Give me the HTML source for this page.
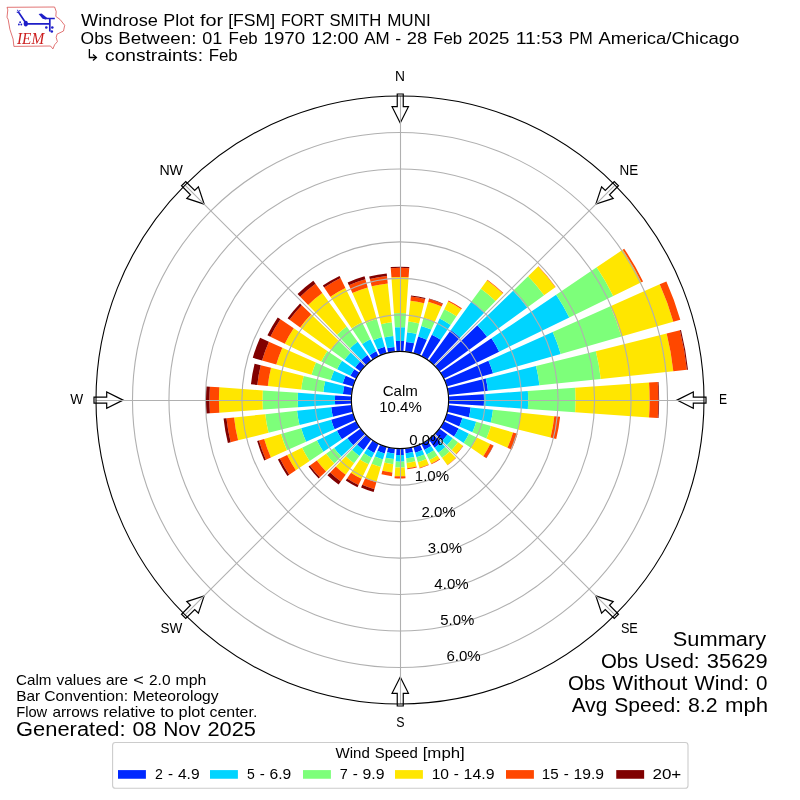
<!DOCTYPE html><html><head><meta charset="utf-8"><title>Windrose Plot FSM</title><style>html,body{margin:0;padding:0;background:#fff;font-family:"Liberation Sans",sans-serif;}svg{display:block;will-change:transform;}</style></head><body><svg width="800" height="800" viewBox="0 0 800 800"><rect width="800" height="800" fill="#fff"/><path fill="#0028ff" d="M396.61,351.48L395.88,341.07A59.07,59.07 0 0 1 404.12,341.07L403.39,351.48A48.64,48.64 0 0 0 396.61,351.48ZM405.08,351.63L406.10,341.94A58.38,58.38 0 0 1 414.12,343.35L411.77,352.80A48.64,48.64 0 0 0 405.08,351.63ZM413.41,353.24L418.18,336.59A65.97,65.97 0 0 1 426.83,339.74L419.78,355.57A48.64,48.64 0 0 0 413.41,353.24ZM421.32,356.28L431.88,334.64A72.72,72.72 0 0 1 440.66,339.72L427.20,359.68A48.64,48.64 0 0 0 421.32,356.28ZM428.59,360.65L450.89,329.96A86.58,86.58 0 0 1 460.14,337.72L433.79,365.01A48.64,48.64 0 0 0 428.59,360.65ZM434.99,366.21L477.37,325.29A107.56,107.56 0 0 1 487.01,336.78L439.35,371.41A48.64,48.64 0 0 0 434.99,366.21ZM440.32,372.80L491.44,338.33A110.29,110.29 0 0 1 499.13,351.65L443.72,378.68A48.64,48.64 0 0 0 440.32,372.80ZM444.43,380.22L488.43,360.63A96.79,96.79 0 0 1 493.04,373.32L446.76,386.59A48.64,48.64 0 0 0 444.43,380.22ZM447.20,388.23L485.78,378.61A88.40,88.40 0 0 1 487.92,390.76L448.37,394.92A48.64,48.64 0 0 0 447.20,388.23ZM448.52,396.61L483.82,394.14A84.03,84.03 0 0 1 483.82,405.86L448.52,403.39A48.64,48.64 0 0 0 448.52,396.61ZM448.37,405.08L470.69,407.43A71.08,71.08 0 0 1 468.96,417.19L447.20,411.77A48.64,48.64 0 0 0 448.37,405.08ZM446.76,413.41L462.40,417.89A64.91,64.91 0 0 1 459.30,426.40L444.43,419.78A48.64,48.64 0 0 0 446.76,413.41ZM443.72,421.32L458.64,428.60A65.24,65.24 0 0 1 454.09,436.48L440.32,427.20A48.64,48.64 0 0 0 443.72,421.32ZM439.35,428.59L447.47,434.49A58.67,58.67 0 0 1 442.21,440.76L434.99,433.79A48.64,48.64 0 0 0 439.35,428.59ZM433.79,434.99L440.96,442.42A58.96,58.96 0 0 1 434.66,447.70L428.59,439.35A48.64,48.64 0 0 0 433.79,434.99ZM427.20,440.32L431.08,446.07A55.57,55.57 0 0 1 424.36,449.95L421.32,443.72A48.64,48.64 0 0 0 427.20,440.32ZM419.78,444.43L422.31,450.10A54.84,54.84 0 0 1 415.12,452.72L413.41,446.76A48.64,48.64 0 0 0 419.78,444.43ZM411.77,447.20L412.96,451.97A53.56,53.56 0 0 1 405.60,453.27L405.08,448.37A48.64,48.64 0 0 0 411.77,447.20ZM403.39,448.52L403.84,454.89A55.02,55.02 0 0 1 396.16,454.89L396.61,448.52A48.64,48.64 0 0 0 403.39,448.52ZM394.92,448.37L394.37,453.53A53.82,53.82 0 0 1 386.98,452.22L388.23,447.20A48.64,48.64 0 0 0 394.92,448.37ZM386.59,446.76L384.68,453.42A55.57,55.57 0 0 1 377.40,450.77L380.22,444.43A48.64,48.64 0 0 0 386.59,446.76ZM378.68,443.72L374.20,452.90A58.85,58.85 0 0 1 367.09,448.79L372.80,440.32A48.64,48.64 0 0 0 378.68,443.72ZM371.41,439.35L363.69,449.98A61.77,61.77 0 0 1 357.09,444.44L366.21,434.99A48.64,48.64 0 0 0 371.41,439.35ZM365.01,433.79L353.20,445.19A65.06,65.06 0 0 1 347.37,438.24L360.65,428.59A48.64,48.64 0 0 0 365.01,433.79ZM359.68,427.20L341.83,439.23A70.16,70.16 0 0 1 336.94,430.76L356.28,421.32A48.64,48.64 0 0 0 359.68,427.20ZM355.57,419.78L334.57,429.13A71.62,71.62 0 0 1 331.15,419.74L353.24,413.41A48.64,48.64 0 0 0 355.57,419.78ZM352.80,411.77L332.88,416.74A69.18,69.18 0 0 1 331.20,407.23L351.63,405.08A48.64,48.64 0 0 0 352.80,411.77ZM351.48,403.39L335.10,404.54A65.06,65.06 0 0 1 335.10,395.46L351.48,396.61A48.64,48.64 0 0 0 351.48,403.39ZM351.63,394.92L342.92,394.00A57.40,57.40 0 0 1 344.31,386.11L352.80,388.23A48.64,48.64 0 0 0 351.63,394.92ZM353.24,386.59L342.72,383.58A59.58,59.58 0 0 1 345.57,375.77L355.57,380.22A48.64,48.64 0 0 0 353.24,386.59ZM356.28,378.68L350.38,375.80A55.21,55.21 0 0 1 354.23,369.13L359.68,372.80A48.64,48.64 0 0 0 356.28,378.68ZM360.65,371.41L355.19,367.44A55.39,55.39 0 0 1 360.16,361.52L365.01,366.21A48.64,48.64 0 0 0 360.65,371.41ZM366.21,365.01L361.40,360.03A55.57,55.57 0 0 1 367.34,355.04L371.41,360.65A48.64,48.64 0 0 0 366.21,365.01ZM372.80,359.68L369.74,355.14A54.11,54.11 0 0 1 376.28,351.36L378.68,356.28A48.64,48.64 0 0 0 372.80,359.68ZM380.22,355.57L377.44,349.33A55.46,55.46 0 0 1 384.71,346.69L386.59,353.24A48.64,48.64 0 0 0 380.22,355.57ZM388.23,352.80L387.10,348.27A53.31,53.31 0 0 1 394.43,346.98L394.92,351.63A48.64,48.64 0 0 0 388.23,352.80Z"/>
<path fill="#00d4ff" d="M395.88,341.07L394.92,327.35A72.83,72.83 0 0 1 405.08,327.35L404.12,341.07A59.07,59.07 0 0 0 395.88,341.07ZM406.10,341.94L407.13,332.14A68.23,68.23 0 0 1 416.51,333.80L414.12,343.35A58.38,58.38 0 0 0 406.10,341.94ZM418.18,336.59L421.25,325.89A77.09,77.09 0 0 1 431.36,329.57L426.83,339.74A65.97,65.97 0 0 0 418.18,336.59ZM431.88,334.64L439.71,318.58A90.59,90.59 0 0 1 450.66,324.90L440.66,339.72A72.72,72.72 0 0 0 431.88,334.64ZM450.89,329.96L471.47,301.62A121.60,121.60 0 0 1 484.47,312.53L460.14,337.72A86.58,86.58 0 0 0 450.89,329.96ZM477.37,325.29L513.19,290.70A157.35,157.35 0 0 1 527.30,307.51L487.01,336.78A107.56,107.56 0 0 0 477.37,325.29ZM491.44,338.33L556.16,294.67A188.36,188.36 0 0 1 569.30,317.43L499.13,351.65A110.29,110.29 0 0 0 491.44,338.33ZM488.43,360.63L552.74,331.99A167.20,167.20 0 0 1 560.72,353.91L493.04,373.32A96.79,96.79 0 0 0 488.43,360.63ZM485.78,378.61L536.04,366.08A140.20,140.20 0 0 1 539.44,385.34L487.92,390.76A88.40,88.40 0 0 0 485.78,378.61ZM483.82,394.14L527.85,391.06A128.17,128.17 0 0 1 527.85,408.94L483.82,405.86A84.03,84.03 0 0 0 483.82,394.14ZM470.69,407.43L493.00,409.77A93.51,93.51 0 0 1 490.73,422.62L468.96,417.19A71.08,71.08 0 0 0 470.69,407.43ZM462.40,417.89L476.21,421.85A79.28,79.28 0 0 1 472.43,432.25L459.30,426.40A64.91,64.91 0 0 0 462.40,417.89ZM458.64,428.60L468.96,433.64A76.73,76.73 0 0 1 463.61,442.91L454.09,436.48A65.24,65.24 0 0 0 458.64,428.60ZM447.47,434.49L452.81,438.37A65.27,65.27 0 0 1 446.95,445.34L442.21,440.76A58.67,58.67 0 0 0 447.47,434.49ZM440.96,442.42L445.32,446.93A65.24,65.24 0 0 1 438.35,452.78L434.66,447.70A58.96,58.96 0 0 0 440.96,442.42ZM431.08,446.07L433.93,450.30A60.68,60.68 0 0 1 426.60,454.54L424.36,449.95A55.57,55.57 0 0 0 431.08,446.07ZM422.31,450.10L424.23,454.43A59.58,59.58 0 0 1 416.42,457.28L415.12,452.72A54.84,54.84 0 0 0 422.31,450.10ZM412.96,451.97L414.19,456.93A58.67,58.67 0 0 1 406.13,458.35L405.60,453.27A53.56,53.56 0 0 0 412.96,451.97ZM403.84,454.89L404.31,461.62A61.77,61.77 0 0 1 395.69,461.62L396.16,454.89A55.02,55.02 0 0 0 403.84,454.89ZM394.37,453.53L393.79,459.08A59.40,59.40 0 0 1 385.63,457.64L386.98,452.22A53.82,53.82 0 0 0 394.37,453.53ZM384.68,453.42L382.92,459.56A61.96,61.96 0 0 1 374.80,456.60L377.40,450.77A55.57,55.57 0 0 0 384.68,453.42ZM374.20,452.90L371.80,457.82A64.33,64.33 0 0 1 364.03,453.33L367.09,448.79A58.85,58.85 0 0 0 374.20,452.90ZM363.69,449.98L359.40,455.88A69.07,69.07 0 0 1 352.02,449.68L357.09,444.44A61.77,61.77 0 0 0 363.69,449.98ZM353.20,445.19L341.39,456.60A81.47,81.47 0 0 1 334.09,447.89L347.37,438.24A65.06,65.06 0 0 0 353.20,445.19ZM341.83,439.23L323.38,451.68A92.42,92.42 0 0 1 316.94,440.51L336.94,430.76A70.16,70.16 0 0 0 341.83,439.23ZM334.57,429.13L306.08,441.82A102.81,102.81 0 0 1 301.17,428.34L331.15,419.74A71.62,71.62 0 0 0 334.57,429.13ZM332.88,416.74L299.53,425.05A103.54,103.54 0 0 1 297.02,410.82L331.20,407.23A69.18,69.18 0 0 0 332.88,416.74ZM335.10,404.54L297.98,407.13A102.27,102.27 0 0 1 297.98,392.87L335.10,395.46A65.06,65.06 0 0 0 335.10,404.54ZM342.92,394.00L323.33,391.94A77.09,77.09 0 0 1 325.20,381.35L344.31,386.11A57.40,57.40 0 0 0 342.92,394.00ZM342.72,383.58L330.63,380.11A72.17,72.17 0 0 1 334.07,370.65L345.57,375.77A59.58,59.58 0 0 0 342.72,383.58ZM350.38,375.80L337.10,369.32A69.98,69.98 0 0 1 341.98,360.87L354.23,369.13A55.21,55.21 0 0 0 350.38,375.80ZM355.19,367.44L344.56,359.72A68.52,68.52 0 0 1 350.71,352.40L360.16,361.52A55.39,55.39 0 0 0 355.19,367.44ZM361.40,360.03L349.99,348.22A71.99,71.99 0 0 1 357.69,341.76L367.34,355.04A55.57,55.57 0 0 0 361.40,360.03ZM369.74,355.14L362.19,343.95A67.61,67.61 0 0 1 370.36,339.23L376.28,351.36A54.11,54.11 0 0 0 369.74,355.14ZM377.44,349.33L373.39,340.24A65.42,65.42 0 0 1 381.97,337.11L384.71,346.69A55.46,55.46 0 0 0 377.44,349.33ZM387.10,348.27L384.44,337.58A64.33,64.33 0 0 1 393.28,336.03L394.43,346.98A53.31,53.31 0 0 0 387.10,348.27Z"/>
<path fill="#7dff7a" d="M394.92,327.35L393.94,313.27A86.94,86.94 0 0 1 406.06,313.27L405.08,327.35A72.83,72.83 0 0 0 394.92,327.35ZM407.13,332.14L408.24,321.62A78.81,78.81 0 0 1 419.07,323.53L416.51,333.80A68.23,68.23 0 0 0 407.13,332.14ZM421.25,325.89L423.56,317.83A85.48,85.48 0 0 1 434.77,321.91L431.36,329.57A77.09,77.09 0 0 0 421.25,325.89ZM439.71,318.58L444.27,309.23A100.99,100.99 0 0 1 456.47,316.28L450.66,324.90A90.59,90.59 0 0 0 439.71,318.58ZM471.47,301.62L480.91,288.64A137.65,137.65 0 0 1 495.62,300.98L484.47,312.53A121.60,121.60 0 0 0 471.47,301.62ZM513.19,290.70L528.15,276.25A178.14,178.14 0 0 1 544.12,295.29L527.30,307.51A157.35,157.35 0 0 0 513.19,290.70ZM556.16,294.67L596.68,267.34A237.24,237.24 0 0 1 613.23,296.00L569.30,317.43A188.36,188.36 0 0 0 556.16,294.67ZM552.74,331.99L610.40,306.32A230.31,230.31 0 0 1 621.39,336.52L560.72,353.91A167.20,167.20 0 0 0 552.74,331.99ZM536.04,366.08L595.86,351.17A201.86,201.86 0 0 1 600.75,378.90L539.44,385.34A140.20,140.20 0 0 0 536.04,366.08ZM527.85,391.06L575.16,387.75A175.59,175.59 0 0 1 575.16,412.25L527.85,408.94A128.17,128.17 0 0 0 527.85,391.06ZM493.00,409.77L520.93,412.71A121.60,121.60 0 0 1 517.99,429.42L490.73,422.62A93.51,93.51 0 0 0 493.00,409.77ZM476.21,421.85L490.94,426.08A94.60,94.60 0 0 1 486.43,438.48L472.43,432.25A79.28,79.28 0 0 0 476.21,421.85ZM468.96,433.64L476.83,437.47A85.48,85.48 0 0 1 470.87,447.80L463.61,442.91A76.73,76.73 0 0 0 468.96,433.64ZM452.81,438.37L458.09,442.21A71.80,71.80 0 0 1 451.65,449.88L446.95,445.34A65.27,65.27 0 0 0 452.81,438.37ZM445.32,446.93L449.63,451.39A71.44,71.44 0 0 1 441.99,457.80L438.35,452.78A65.24,65.24 0 0 0 445.32,446.93ZM433.93,450.30L437.40,455.45A66.88,66.88 0 0 1 429.32,460.11L426.60,454.54A60.68,60.68 0 0 0 433.93,450.30ZM424.23,454.43L426.31,459.10A64.69,64.69 0 0 1 417.83,462.19L416.42,457.28A59.58,59.58 0 0 0 424.23,454.43ZM414.19,456.93L415.30,461.35A63.23,63.23 0 0 1 406.61,462.89L406.13,458.35A58.67,58.67 0 0 0 414.19,456.93ZM404.31,461.62L404.72,467.44A67.61,67.61 0 0 1 395.28,467.44L395.69,461.62A61.77,61.77 0 0 0 404.31,461.62ZM393.79,459.08L393.26,464.16A64.51,64.51 0 0 1 384.39,462.59L385.63,457.64A59.40,59.40 0 0 0 393.79,459.08ZM382.92,459.56L380.79,466.99A69.69,69.69 0 0 1 371.65,463.66L374.80,456.60A61.96,61.96 0 0 0 382.92,459.56ZM371.80,457.82L368.60,464.37A71.62,71.62 0 0 1 359.95,459.38L364.03,453.33A64.33,64.33 0 0 0 371.80,457.82ZM359.40,455.88L354.04,463.26A78.19,78.19 0 0 1 345.69,456.24L352.02,449.68A69.07,69.07 0 0 0 359.40,455.88ZM341.39,456.60L334.31,463.44A91.32,91.32 0 0 1 326.12,453.68L334.09,447.89A81.47,81.47 0 0 0 341.39,456.60ZM323.38,451.68L309.62,460.96A109.01,109.01 0 0 1 302.02,447.79L316.94,440.51A92.42,92.42 0 0 0 323.38,451.68ZM306.08,441.82L286.91,450.35A123.79,123.79 0 0 1 281.01,434.12L301.17,428.34A102.81,102.81 0 0 0 306.08,441.82ZM299.53,425.05L268.56,432.77A135.46,135.46 0 0 1 265.28,414.16L297.02,410.82A103.54,103.54 0 0 0 299.53,425.05ZM297.98,407.13L262.87,409.59A137.47,137.47 0 0 1 262.87,390.41L297.98,392.87A102.27,102.27 0 0 0 297.98,407.13ZM323.33,391.94L301.20,389.62A99.35,99.35 0 0 1 303.60,375.97L325.20,381.35A77.09,77.09 0 0 0 323.33,391.94ZM330.63,380.11L311.51,374.63A92.05,92.05 0 0 1 315.91,362.56L334.07,370.65A72.17,72.17 0 0 0 330.63,380.11ZM337.10,369.32L321.20,361.57A87.67,87.67 0 0 1 327.32,350.97L341.98,360.87A69.98,69.98 0 0 0 337.10,369.32ZM344.56,359.72L330.84,349.75A85.48,85.48 0 0 1 338.51,340.62L350.71,352.40A68.52,68.52 0 0 0 344.56,359.72ZM349.99,348.22L336.94,334.70A90.77,90.77 0 0 1 346.64,326.56L357.69,341.76A71.99,71.99 0 0 0 349.99,348.22ZM362.19,343.95L351.59,328.22A86.58,86.58 0 0 1 362.05,322.18L370.36,339.23A67.61,67.61 0 0 0 362.19,343.95ZM373.39,340.24L365.75,323.07A84.21,84.21 0 0 1 376.79,319.05L381.97,337.11A65.42,65.42 0 0 0 373.39,340.24ZM384.44,337.58L381.08,324.13A78.19,78.19 0 0 1 391.83,322.24L393.28,336.03A64.33,64.33 0 0 0 384.44,337.58Z"/>
<path fill="#ffe600" d="M393.94,313.27L391.42,277.24A123.06,123.06 0 0 1 408.58,277.24L406.06,313.27A86.94,86.94 0 0 0 393.94,313.27ZM408.24,321.62L410.42,300.83A99.71,99.71 0 0 1 424.12,303.25L419.07,323.53A78.81,78.81 0 0 0 408.24,321.62ZM423.56,317.83L428.19,301.70A102.27,102.27 0 0 1 441.60,306.58L434.77,321.91A85.48,85.48 0 0 0 423.56,317.83ZM444.27,309.23L448.03,301.53A109.56,109.56 0 0 1 461.27,309.17L456.47,316.28A100.99,100.99 0 0 0 444.27,309.23ZM480.91,288.64L487.02,280.23A148.05,148.05 0 0 1 502.84,293.50L495.62,300.98A137.65,137.65 0 0 0 480.91,288.64ZM528.15,276.25L538.12,266.62A192.01,192.01 0 0 1 555.34,287.14L544.12,295.29A178.14,178.14 0 0 0 528.15,276.25ZM596.68,267.34L622.69,249.79A268.61,268.61 0 0 1 641.43,282.25L613.23,296.00A237.24,237.24 0 0 0 596.68,267.34ZM610.40,306.32L659.72,284.36A284.30,284.30 0 0 1 673.29,321.64L621.39,336.52A230.31,230.31 0 0 0 610.40,306.32ZM595.86,351.17L666.65,333.52A274.82,274.82 0 0 1 673.31,371.27L600.75,378.90A201.86,201.86 0 0 0 595.86,351.17ZM575.16,387.75L649.04,382.59A249.64,249.64 0 0 1 649.04,417.41L575.16,412.25A175.59,175.59 0 0 0 575.16,387.75ZM520.93,412.71L554.31,416.22A155.16,155.16 0 0 1 550.55,437.54L517.99,429.42A121.60,121.60 0 0 0 520.93,412.71ZM490.94,426.08L513.03,432.41A117.59,117.59 0 0 1 507.42,447.83L486.43,438.48A94.60,94.60 0 0 0 490.94,426.08ZM476.83,437.47L490.28,444.03A100.44,100.44 0 0 1 483.27,456.17L470.87,447.80A85.48,85.48 0 0 0 476.83,437.47ZM458.09,442.21L462.96,445.74A77.82,77.82 0 0 1 455.98,454.06L451.65,449.88A71.80,71.80 0 0 0 458.09,442.21ZM449.63,451.39L455.83,457.82A80.38,80.38 0 0 1 447.24,465.03L441.99,457.80A71.44,71.44 0 0 0 449.63,451.39ZM437.40,455.45L439.64,458.77A70.89,70.89 0 0 1 431.08,463.72L429.32,460.11A66.88,66.88 0 0 0 437.40,455.45ZM426.31,459.10L428.69,464.43A70.53,70.53 0 0 1 419.44,467.80L417.83,462.19A64.69,64.69 0 0 0 426.31,459.10ZM415.30,461.35L416.58,466.49A68.52,68.52 0 0 1 407.16,468.15L406.61,462.89A63.23,63.23 0 0 0 415.30,461.35ZM404.72,467.44L405.33,476.18A76.36,76.36 0 0 1 394.67,476.18L395.28,467.44A67.61,67.61 0 0 0 404.72,467.44ZM393.26,464.16L392.37,472.57A72.97,72.97 0 0 1 382.35,470.80L384.39,462.59A64.51,64.51 0 0 0 393.26,464.16ZM380.79,466.99L376.40,482.31A85.63,85.63 0 0 1 365.17,478.23L371.65,463.66A69.69,69.69 0 0 0 380.79,466.99ZM368.60,464.37L361.57,478.80A87.67,87.67 0 0 1 350.97,472.68L359.95,459.38A71.62,71.62 0 0 0 368.60,464.37ZM354.04,463.26L345.68,474.77A92.42,92.42 0 0 1 335.80,466.48L345.69,456.24A78.19,78.19 0 0 0 354.04,463.26ZM334.31,463.44L326.04,471.42A102.81,102.81 0 0 1 316.82,460.43L326.12,453.68A91.32,91.32 0 0 0 334.31,463.44ZM309.62,460.96L295.86,470.24A125.61,125.61 0 0 1 287.10,455.07L302.02,447.79A109.01,109.01 0 0 0 309.62,460.96ZM286.91,450.35L270.92,457.47A141.30,141.30 0 0 1 264.17,438.95L281.01,434.12A123.79,123.79 0 0 0 286.91,450.35ZM268.56,432.77L238.12,440.36A166.84,166.84 0 0 1 234.08,417.44L265.28,414.16A135.46,135.46 0 0 0 268.56,432.77ZM262.87,409.59L219.38,412.63A181.06,181.06 0 0 1 219.38,387.37L262.87,390.41A137.47,137.47 0 0 0 262.87,409.59ZM301.20,389.62L267.82,386.11A132.91,132.91 0 0 1 271.04,367.85L303.60,375.97A99.35,99.35 0 0 0 301.20,389.62ZM311.51,374.63L276.24,364.51A128.75,128.75 0 0 1 282.38,347.63L315.91,362.56A92.05,92.05 0 0 0 311.51,374.63ZM321.20,361.57L284.80,343.82A128.17,128.17 0 0 1 293.75,328.33L327.32,350.97A87.67,87.67 0 0 0 321.20,361.57ZM330.84,349.75L300.15,327.45A123.42,123.42 0 0 1 311.22,314.26L338.51,340.62A85.48,85.48 0 0 0 330.84,349.75ZM336.94,334.70L308.18,304.92A132.18,132.18 0 0 1 322.31,293.06L346.64,326.56A90.77,90.77 0 0 0 336.94,334.70ZM351.59,328.22L330.37,296.77A124.52,124.52 0 0 1 345.41,288.08L362.05,322.18A86.58,86.58 0 0 0 351.59,328.22ZM365.75,323.07L352.40,293.08A117.04,117.04 0 0 1 367.74,287.49L376.79,319.05A84.21,84.21 0 0 0 365.75,323.07ZM381.08,324.13L371.66,286.33A117.15,117.15 0 0 1 387.75,283.49L391.83,322.24A78.19,78.19 0 0 0 381.08,324.13Z"/>
<path fill="#ff4700" d="M391.42,277.24L390.78,268.14A132.18,132.18 0 0 1 409.22,268.14L408.58,277.24A123.06,123.06 0 0 0 391.42,277.24ZM410.42,300.83L410.88,296.48A104.09,104.09 0 0 1 425.18,299.00L424.12,303.25A99.71,99.71 0 0 0 410.42,300.83ZM428.19,301.70L428.99,298.89A105.18,105.18 0 0 1 442.78,303.91L441.60,306.58A102.27,102.27 0 0 0 428.19,301.70ZM448.03,301.53L448.51,300.54A110.66,110.66 0 0 1 461.88,308.26L461.27,309.17A109.56,109.56 0 0 0 448.03,301.53ZM487.02,280.23L487.45,279.64A148.78,148.78 0 0 1 503.35,292.98L502.84,293.50A148.05,148.05 0 0 0 487.02,280.23ZM538.12,266.62L538.38,266.37A192.37,192.37 0 0 1 555.63,286.93L555.34,287.14A192.01,192.01 0 0 0 538.12,266.62ZM622.69,249.79L624.20,248.77A270.44,270.44 0 0 1 643.07,281.45L641.43,282.25A268.61,268.61 0 0 0 622.69,249.79ZM659.72,284.36L666.39,281.40A291.60,291.60 0 0 1 680.30,319.63L673.29,321.64A284.30,284.30 0 0 0 659.72,284.36ZM666.65,333.52L679.93,330.21A288.50,288.50 0 0 1 686.92,369.84L673.31,371.27A274.82,274.82 0 0 0 666.65,333.52ZM649.04,382.59L657.77,381.97A258.40,258.40 0 0 1 657.77,418.03L649.04,417.41A249.64,249.64 0 0 0 649.04,382.59ZM554.31,416.22L560.12,416.83A161.00,161.00 0 0 1 556.22,438.95L550.55,437.54A155.16,155.16 0 0 0 554.31,416.22ZM513.03,432.41L517.59,433.72A122.33,122.33 0 0 1 511.75,449.76L507.42,447.83A117.59,117.59 0 0 0 513.03,432.41ZM490.28,444.03L493.39,445.55A103.91,103.91 0 0 1 486.14,458.10L483.27,456.17A100.44,100.44 0 0 0 490.28,444.03ZM462.96,445.74L463.34,446.02A78.30,78.30 0 0 1 456.32,454.39L455.98,454.06A77.82,77.82 0 0 0 462.96,445.74ZM455.83,457.82L456.09,458.08A80.74,80.74 0 0 1 447.46,465.32L447.24,465.03A80.38,80.38 0 0 0 455.83,457.82ZM439.64,458.77L440.05,459.38A71.62,71.62 0 0 1 431.40,464.37L431.08,463.72A70.89,70.89 0 0 0 439.64,458.77ZM428.69,464.43L428.98,465.10A71.26,71.26 0 0 1 419.64,468.50L419.44,467.80A70.53,70.53 0 0 0 428.69,464.43ZM416.58,466.49L416.84,467.55A69.62,69.62 0 0 1 407.28,469.23L407.16,468.15A68.52,68.52 0 0 0 416.58,466.49ZM405.33,476.18L405.48,478.36A78.55,78.55 0 0 1 394.52,478.36L394.67,476.18A76.36,76.36 0 0 0 405.33,476.18ZM392.37,472.57L391.99,476.20A76.62,76.62 0 0 1 381.46,474.34L382.35,470.80A72.97,72.97 0 0 0 392.37,472.57ZM376.40,482.31L374.43,489.19A92.78,92.78 0 0 1 362.26,484.76L365.17,478.23A85.63,85.63 0 0 0 376.40,482.31ZM361.57,478.80L358.53,485.03A94.60,94.60 0 0 1 347.10,478.43L350.97,472.68A87.67,87.67 0 0 0 361.57,478.80ZM345.68,474.77L340.85,481.41A100.62,100.62 0 0 1 330.10,472.38L335.80,466.48A92.42,92.42 0 0 0 345.68,474.77ZM326.04,471.42L319.88,477.37A111.39,111.39 0 0 1 309.89,465.47L316.82,460.43A102.81,102.81 0 0 0 326.04,471.42ZM295.86,470.24L289.21,474.73A133.64,133.64 0 0 1 279.89,458.58L287.10,455.07A125.61,125.61 0 0 0 295.86,470.24ZM270.92,457.47L265.92,459.70A146.77,146.77 0 0 1 258.91,440.46L264.17,438.95A141.30,141.30 0 0 0 270.92,457.47ZM238.12,440.36L230.69,442.21A174.50,174.50 0 0 1 226.46,418.24L234.08,417.44A166.84,166.84 0 0 0 238.12,440.36ZM219.38,412.63L209.92,413.29A190.55,190.55 0 0 1 209.92,386.71L219.38,387.37A181.06,181.06 0 0 0 219.38,412.63ZM267.82,386.11L257.30,385.00A143.49,143.49 0 0 1 260.77,365.29L271.04,367.85A132.91,132.91 0 0 0 267.82,386.11ZM276.24,364.51L262.07,360.45A143.49,143.49 0 0 1 268.92,341.64L282.38,347.63A128.75,128.75 0 0 0 276.24,364.51ZM284.80,343.82L270.38,336.78A144.22,144.22 0 0 1 280.44,319.35L293.75,328.33A128.17,128.17 0 0 0 284.80,343.82ZM300.15,327.45L289.52,319.73A136.56,136.56 0 0 1 301.77,305.14L311.22,314.26A123.42,123.42 0 0 0 300.15,327.45ZM308.18,304.92L300.20,296.65A143.67,143.67 0 0 1 315.55,283.77L322.31,293.06A132.18,132.18 0 0 0 308.18,304.92ZM330.37,296.77L324.15,287.55A135.64,135.64 0 0 1 340.54,278.08L345.41,288.08A124.52,124.52 0 0 0 330.37,296.77ZM352.40,293.08L348.91,285.25A125.61,125.61 0 0 1 365.38,279.25L367.74,287.49A117.04,117.04 0 0 0 352.40,293.08ZM371.66,286.33L369.83,279.00A124.70,124.70 0 0 1 386.97,275.98L387.75,283.49A117.15,117.15 0 0 0 371.66,286.33Z"/>
<path fill="#800000" d="M390.78,268.14L390.70,267.05A133.27,133.27 0 0 1 409.30,267.05L409.22,268.14A132.18,132.18 0 0 0 390.78,268.14ZM410.88,296.48L410.99,295.39A105.18,105.18 0 0 1 425.45,297.94L425.18,299.00A104.09,104.09 0 0 0 410.88,296.48ZM428.99,298.89L429.09,298.54A105.55,105.55 0 0 1 442.93,303.58L442.78,303.91A105.18,105.18 0 0 0 428.99,298.89ZM679.93,330.21L680.99,329.94A289.59,289.59 0 0 1 688.00,369.73L686.92,369.84A288.50,288.50 0 0 0 679.93,330.21ZM657.77,381.97L658.50,381.92A259.13,259.13 0 0 1 658.50,418.08L657.77,418.03A258.40,258.40 0 0 0 657.77,381.97ZM493.39,445.55L493.56,445.63A104.09,104.09 0 0 1 486.29,458.21L486.14,458.10A103.91,103.91 0 0 0 493.39,445.55ZM374.43,489.19L373.62,491.99A95.70,95.70 0 0 1 361.08,487.43L362.26,484.76A92.78,92.78 0 0 0 374.43,489.19ZM358.53,485.03L357.49,487.16A96.98,96.98 0 0 1 345.77,480.40L347.10,478.43A94.60,94.60 0 0 0 358.53,485.03ZM340.85,481.41L338.60,484.51A104.45,104.45 0 0 1 327.44,475.14L330.10,472.38A100.62,100.62 0 0 0 340.85,481.41ZM319.88,477.37L318.70,478.52A113.03,113.03 0 0 1 308.56,466.44L309.89,465.47A111.39,111.39 0 0 0 319.88,477.37ZM289.21,474.73L287.39,475.95A135.83,135.83 0 0 1 277.92,459.54L279.89,458.58A133.64,133.64 0 0 0 289.21,474.73ZM265.92,459.70L264.25,460.44A148.60,148.60 0 0 1 257.16,440.96L258.91,440.46A146.77,146.77 0 0 0 265.92,459.70ZM230.69,442.21L227.86,442.92A177.41,177.41 0 0 1 223.56,418.54L226.46,418.24A174.50,174.50 0 0 0 230.69,442.21ZM209.92,413.29L206.28,413.55A194.20,194.20 0 0 1 206.28,386.45L209.92,386.71A190.55,190.55 0 0 0 209.92,413.29ZM257.30,385.00L250.95,384.33A149.87,149.87 0 0 1 254.58,363.74L260.77,365.29A143.49,143.49 0 0 0 257.30,385.00ZM262.07,360.45L252.78,357.78A153.16,153.16 0 0 1 260.09,337.71L268.92,341.64A143.49,143.49 0 0 0 262.07,360.45ZM270.38,336.78L267.43,335.34A147.50,147.50 0 0 1 277.72,317.52L280.44,319.35A144.22,144.22 0 0 0 270.38,336.78ZM289.52,319.73L287.60,318.34A138.93,138.93 0 0 1 300.06,303.49L301.77,305.14A136.56,136.56 0 0 0 289.52,319.73ZM300.20,296.65L297.54,293.90A147.50,147.50 0 0 1 313.30,280.67L315.55,283.77A143.67,143.67 0 0 0 300.20,296.65ZM324.15,287.55L322.82,285.58A138.02,138.02 0 0 1 339.50,275.95L340.54,278.08A135.64,135.64 0 0 0 324.15,287.55ZM348.91,285.25L347.65,282.41A128.71,128.71 0 0 1 364.52,276.27L365.38,279.25A125.61,125.61 0 0 0 348.91,285.25ZM369.83,279.00L369.21,276.53A127.25,127.25 0 0 1 386.70,273.44L386.97,275.98A124.70,124.70 0 0 0 369.83,279.00Z"/>
<g fill="#fff" stroke="#000" stroke-width="1.2" stroke-linejoin="miter"><polygon points="400.25,123.00 392.05,106.70 397.25,106.70 397.25,94.00 403.25,94.00 403.25,106.70 408.45,106.70"/><polygon points="595.87,204.13 601.60,186.81 605.27,190.48 614.25,181.50 618.50,185.75 609.52,194.73 613.19,198.40"/><polygon points="677.00,400.10 693.30,391.90 693.30,397.10 706.00,397.10 706.00,403.10 693.30,403.10 693.30,408.30"/><polygon points="595.87,595.87 613.19,601.60 609.52,605.27 618.50,614.25 614.25,618.50 605.27,609.52 601.60,613.19"/><polygon points="400.25,677.00 408.45,693.30 403.25,693.30 403.25,706.00 397.25,706.00 397.25,693.30 392.05,693.30"/><polygon points="204.13,595.87 198.40,613.19 194.73,609.52 185.75,618.50 181.50,614.25 190.48,605.27 186.81,601.60"/><polygon points="123.00,400.10 106.70,408.30 106.70,403.10 94.00,403.10 94.00,397.10 106.70,397.10 106.70,391.90"/><polygon points="204.13,204.13 186.81,198.40 190.48,194.73 181.50,185.75 185.75,181.50 194.73,190.48 198.40,186.81"/></g>
<g fill="none" stroke="#b0b0b0" stroke-width="1.1"><circle cx="400.0" cy="400.0" r="48.64"/><circle cx="400.0" cy="400.0" r="85.12"/><circle cx="400.0" cy="400.0" r="121.60"/><circle cx="400.0" cy="400.0" r="158.08"/><circle cx="400.0" cy="400.0" r="194.56"/><circle cx="400.0" cy="400.0" r="231.04"/><circle cx="400.0" cy="400.0" r="267.52"/><line x1="400.50" y1="351.36" x2="400.50" y2="96.00"/><line x1="434.39" y1="365.61" x2="614.96" y2="185.04"/><line x1="448.64" y1="400.50" x2="704.00" y2="400.50"/><line x1="434.39" y1="434.39" x2="614.96" y2="614.96"/><line x1="400.50" y1="448.64" x2="400.50" y2="704.00"/><line x1="365.61" y1="434.39" x2="185.04" y2="614.96"/><line x1="351.36" y1="400.50" x2="96.00" y2="400.50"/><line x1="365.61" y1="365.61" x2="185.04" y2="185.04"/></g>
<circle cx="400.0" cy="400.0" r="304.0" fill="none" stroke="#000" stroke-width="1.1"/>
<circle cx="400.0" cy="400.0" r="48.64" fill="#fff" stroke="#000" stroke-width="1.15"/>
<g font-family="'Liberation Sans', sans-serif"><text x="395.01" y="81.00" font-size="14.51" textLength="9.95" lengthAdjust="spacingAndGlyphs" fill="#000">N</text><text x="619.56" y="174.80" font-size="14.51" textLength="18.66" lengthAdjust="spacingAndGlyphs" fill="#000">NE</text><text x="719.12" y="403.80" font-size="14.51" textLength="8.07" lengthAdjust="spacingAndGlyphs" fill="#000">E</text><text x="620.88" y="632.70" font-size="14.51" textLength="16.93" lengthAdjust="spacingAndGlyphs" fill="#000">SE</text><text x="396.17" y="726.50" font-size="14.51" textLength="8.28" lengthAdjust="spacingAndGlyphs" fill="#000">S</text><text x="160.54" y="632.70" font-size="14.51" textLength="21.86" lengthAdjust="spacingAndGlyphs" fill="#000">SW</text><text x="70.23" y="403.90" font-size="14.51" textLength="12.93" lengthAdjust="spacingAndGlyphs" fill="#000">W</text><text x="159.40" y="174.90" font-size="14.51" textLength="23.58" lengthAdjust="spacingAndGlyphs" fill="#000">NW</text><text x="409.18" y="444.60" font-size="14.51" textLength="34.23" lengthAdjust="spacingAndGlyphs" fill="#000">0.0%</text><text x="414.84" y="480.63" font-size="14.51" textLength="34.21" lengthAdjust="spacingAndGlyphs" fill="#000">1.0%</text><text x="421.48" y="516.66" font-size="14.51" textLength="34.29" lengthAdjust="spacingAndGlyphs" fill="#000">2.0%</text><text x="427.87" y="552.69" font-size="14.51" textLength="34.08" lengthAdjust="spacingAndGlyphs" fill="#000">3.0%</text><text x="434.36" y="588.72" font-size="14.51" textLength="34.22" lengthAdjust="spacingAndGlyphs" fill="#000">4.0%</text><text x="440.28" y="624.75" font-size="14.51" textLength="34.13" lengthAdjust="spacingAndGlyphs" fill="#000">5.0%</text><text x="446.40" y="660.78" font-size="14.51" textLength="34.34" lengthAdjust="spacingAndGlyphs" fill="#000">6.0%</text><text x="382.67" y="395.60" font-size="14.51" textLength="35.20" lengthAdjust="spacingAndGlyphs" fill="#000">Calm</text><text x="379.18" y="411.90" font-size="14.51" textLength="42.62" lengthAdjust="spacingAndGlyphs" fill="#000">10.4%</text><text x="81.00" y="25.80" font-size="17.42" textLength="76.88" lengthAdjust="spacingAndGlyphs" fill="#000">Windrose</text><text x="163.37" y="25.80" font-size="17.42" textLength="30.98" lengthAdjust="spacingAndGlyphs" fill="#000">Plot</text><text x="199.96" y="25.80" font-size="17.42" textLength="23.19" lengthAdjust="spacingAndGlyphs" fill="#000">for</text><text x="228.22" y="25.80" font-size="17.42" textLength="46.93" lengthAdjust="spacingAndGlyphs" fill="#000">[FSM]</text><text x="280.89" y="25.80" font-size="17.42" textLength="43.35" lengthAdjust="spacingAndGlyphs" fill="#000">FORT</text><text x="329.42" y="25.80" font-size="17.42" textLength="51.94" lengthAdjust="spacingAndGlyphs" fill="#000">SMITH</text><text x="387.14" y="25.80" font-size="17.42" textLength="43.60" lengthAdjust="spacingAndGlyphs" fill="#000">MUNI</text><text x="80.60" y="43.60" font-size="17.42" textLength="32.02" lengthAdjust="spacingAndGlyphs" fill="#000">Obs</text><text x="118.23" y="43.60" font-size="17.42" textLength="78.18" lengthAdjust="spacingAndGlyphs" fill="#000">Between:</text><text x="202.32" y="43.60" font-size="17.42" textLength="20.06" lengthAdjust="spacingAndGlyphs" fill="#000">01</text><text x="228.62" y="43.60" font-size="17.42" textLength="29.01" lengthAdjust="spacingAndGlyphs" fill="#000">Feb</text><text x="263.55" y="43.60" font-size="17.42" textLength="41.61" lengthAdjust="spacingAndGlyphs" fill="#000">1970</text><text x="311.20" y="43.60" font-size="17.42" textLength="47.26" lengthAdjust="spacingAndGlyphs" fill="#000">12:00</text><text x="364.18" y="43.60" font-size="17.42" textLength="25.41" lengthAdjust="spacingAndGlyphs" fill="#000">AM</text><text x="395.16" y="43.60" font-size="17.42" textLength="5.93" lengthAdjust="spacingAndGlyphs" fill="#000">-</text><text x="406.73" y="43.60" font-size="17.42" textLength="20.50" lengthAdjust="spacingAndGlyphs" fill="#000">28</text><text x="433.15" y="43.60" font-size="17.42" textLength="29.01" lengthAdjust="spacingAndGlyphs" fill="#000">Feb</text><text x="467.97" y="43.60" font-size="17.42" textLength="41.42" lengthAdjust="spacingAndGlyphs" fill="#000">2025</text><text x="515.69" y="43.60" font-size="17.42" textLength="47.14" lengthAdjust="spacingAndGlyphs" fill="#000">11:53</text><text x="568.94" y="43.60" font-size="17.42" textLength="23.75" lengthAdjust="spacingAndGlyphs" fill="#000">PM</text><text x="598.41" y="43.60" font-size="17.42" textLength="140.99" lengthAdjust="spacingAndGlyphs" fill="#000">America/Chicago</text><text x="105.11" y="61.40" font-size="17.42" textLength="97.85" lengthAdjust="spacingAndGlyphs" fill="#000">constraints:</text><text x="208.71" y="61.40" font-size="17.42" textLength="29.01" lengthAdjust="spacingAndGlyphs" fill="#000">Feb</text><text x="16.12" y="685.20" font-size="14.51" textLength="35.41" lengthAdjust="spacingAndGlyphs" fill="#000">Calm</text><text x="56.49" y="685.20" font-size="14.51" textLength="44.75" lengthAdjust="spacingAndGlyphs" fill="#000">values</text><text x="105.94" y="685.20" font-size="14.51" textLength="22.23" lengthAdjust="spacingAndGlyphs" fill="#000">are</text><text x="133.25" y="685.20" font-size="14.51" textLength="10.51" lengthAdjust="spacingAndGlyphs" fill="#000">&lt;</text><text x="148.99" y="685.20" font-size="14.51" textLength="21.54" lengthAdjust="spacingAndGlyphs" fill="#000">2.0</text><text x="175.47" y="685.20" font-size="14.51" textLength="30.78" lengthAdjust="spacingAndGlyphs" fill="#000">mph</text><text x="16.18" y="701.10" font-size="14.51" textLength="23.95" lengthAdjust="spacingAndGlyphs" fill="#000">Bar</text><text x="44.28" y="701.10" font-size="14.51" textLength="83.75" lengthAdjust="spacingAndGlyphs" fill="#000">Convention:</text><text x="132.68" y="701.10" font-size="14.51" textLength="85.88" lengthAdjust="spacingAndGlyphs" fill="#000">Meteorology</text><text x="16.24" y="717.00" font-size="14.51" textLength="30.98" lengthAdjust="spacingAndGlyphs" fill="#000">Flow</text><text x="52.41" y="717.00" font-size="14.51" textLength="46.23" lengthAdjust="spacingAndGlyphs" fill="#000">arrows</text><text x="103.37" y="717.00" font-size="14.51" textLength="52.17" lengthAdjust="spacingAndGlyphs" fill="#000">relative</text><text x="160.15" y="717.00" font-size="14.51" textLength="13.75" lengthAdjust="spacingAndGlyphs" fill="#000">to</text><text x="178.64" y="717.00" font-size="14.51" textLength="26.20" lengthAdjust="spacingAndGlyphs" fill="#000">plot</text><text x="209.55" y="717.00" font-size="14.51" textLength="47.77" lengthAdjust="spacingAndGlyphs" fill="#000">center.</text><text x="16.12" y="736.40" font-size="20.32" textLength="109.44" lengthAdjust="spacingAndGlyphs" fill="#000">Generated:</text><text x="132.42" y="736.40" font-size="20.32" textLength="23.98" lengthAdjust="spacingAndGlyphs" fill="#000">08</text><text x="163.15" y="736.40" font-size="20.32" textLength="37.25" lengthAdjust="spacingAndGlyphs" fill="#000">Nov</text><text x="207.42" y="736.40" font-size="20.32" textLength="48.44" lengthAdjust="spacingAndGlyphs" fill="#000">2025</text><text x="672.83" y="645.80" font-size="20.32" textLength="93.22" lengthAdjust="spacingAndGlyphs" fill="#000">Summary</text><text x="600.95" y="667.75" font-size="20.32" textLength="37.39" lengthAdjust="spacingAndGlyphs" fill="#000">Obs</text><text x="644.87" y="667.75" font-size="20.32" textLength="54.79" lengthAdjust="spacingAndGlyphs" fill="#000">Used:</text><text x="706.83" y="667.75" font-size="20.32" textLength="60.88" lengthAdjust="spacingAndGlyphs" fill="#000">35629</text><text x="567.95" y="689.70" font-size="20.32" textLength="37.39" lengthAdjust="spacingAndGlyphs" fill="#000">Obs</text><text x="612.31" y="689.70" font-size="20.32" textLength="75.14" lengthAdjust="spacingAndGlyphs" fill="#000">Without</text><text x="694.51" y="689.70" font-size="20.32" textLength="54.59" lengthAdjust="spacingAndGlyphs" fill="#000">Wind:</text><text x="756.02" y="689.70" font-size="20.32" textLength="11.46" lengthAdjust="spacingAndGlyphs" fill="#000">0</text><text x="571.80" y="711.60" font-size="20.32" textLength="35.55" lengthAdjust="spacingAndGlyphs" fill="#000">Avg</text><text x="614.22" y="711.60" font-size="20.32" textLength="66.85" lengthAdjust="spacingAndGlyphs" fill="#000">Speed:</text><text x="688.02" y="711.60" font-size="20.32" textLength="29.61" lengthAdjust="spacingAndGlyphs" fill="#000">8.2</text><text x="725.00" y="711.60" font-size="20.32" textLength="43.13" lengthAdjust="spacingAndGlyphs" fill="#000">mph</text></g>
<g transform="translate(85.79,61.4)"><path d="M3.6,-12.3 V-3.9 H10.3" fill="none" stroke="#000" stroke-width="1.3"/><path d="M7.2,-6.8 L10.6,-3.9 L7.2,-0.8" fill="none" stroke="#000" stroke-width="1.3"/></g>
<rect x="112.6" y="742.5" width="575.40" height="45.70" rx="2.8" ry="2.8" fill="#fff" stroke="#cccccc" stroke-width="1.1"/>
<rect x="118.00" y="770.1" width="27.9" height="8.65" fill="#0028ff"/>
<rect x="210.00" y="770.1" width="27.9" height="8.65" fill="#00d4ff"/>
<rect x="303.00" y="770.1" width="27.9" height="8.65" fill="#7dff7a"/>
<rect x="395.00" y="770.1" width="27.9" height="8.65" fill="#ffe600"/>
<rect x="506.00" y="770.1" width="27.9" height="8.65" fill="#ff4700"/>
<rect x="616.25" y="770.1" width="27.9" height="8.65" fill="#800000"/>
<g font-family="'Liberation Sans', sans-serif"><text x="335.55" y="757.60" font-size="14.51" textLength="34.29" lengthAdjust="spacingAndGlyphs" fill="#000">Wind</text><text x="374.81" y="757.60" font-size="14.51" textLength="43.10" lengthAdjust="spacingAndGlyphs" fill="#000">Speed</text><text x="422.71" y="757.60" font-size="14.51" textLength="42.06" lengthAdjust="spacingAndGlyphs" fill="#000">[mph]</text><text x="155.07" y="779.00" font-size="14.51" textLength="7.88" lengthAdjust="spacingAndGlyphs" fill="#000">2</text><text x="168.07" y="779.00" font-size="14.51" textLength="5.07" lengthAdjust="spacingAndGlyphs" fill="#000">-</text><text x="177.93" y="779.00" font-size="14.51" textLength="21.67" lengthAdjust="spacingAndGlyphs" fill="#000">4.9</text><text x="246.92" y="779.00" font-size="14.51" textLength="7.81" lengthAdjust="spacingAndGlyphs" fill="#000">5</text><text x="259.74" y="779.00" font-size="14.51" textLength="5.06" lengthAdjust="spacingAndGlyphs" fill="#000">-</text><text x="269.45" y="779.00" font-size="14.51" textLength="21.76" lengthAdjust="spacingAndGlyphs" fill="#000">6.9</text><text x="339.75" y="779.00" font-size="14.51" textLength="8.04" lengthAdjust="spacingAndGlyphs" fill="#000">7</text><text x="352.74" y="779.00" font-size="14.51" textLength="5.10" lengthAdjust="spacingAndGlyphs" fill="#000">-</text><text x="362.48" y="779.00" font-size="14.51" textLength="21.99" lengthAdjust="spacingAndGlyphs" fill="#000">9.9</text><text x="431.67" y="779.00" font-size="14.51" textLength="17.32" lengthAdjust="spacingAndGlyphs" fill="#000">10</text><text x="453.72" y="779.00" font-size="14.51" textLength="5.10" lengthAdjust="spacingAndGlyphs" fill="#000">-</text><text x="463.64" y="779.00" font-size="14.51" textLength="30.84" lengthAdjust="spacingAndGlyphs" fill="#000">14.9</text><text x="541.85" y="779.00" font-size="14.51" textLength="16.86" lengthAdjust="spacingAndGlyphs" fill="#000">15</text><text x="563.65" y="779.00" font-size="14.51" textLength="5.05" lengthAdjust="spacingAndGlyphs" fill="#000">-</text><text x="573.46" y="779.00" font-size="14.51" textLength="30.51" lengthAdjust="spacingAndGlyphs" fill="#000">19.9</text><text x="652.43" y="779.00" font-size="14.51" textLength="28.89" lengthAdjust="spacingAndGlyphs" fill="#000">20+</text></g>
<g>
<path d="M7,7.3 L54.6,7 L56.2,11.5 L55.8,16.4 L60.2,19.6 L64.7,25.3 L63.5,31 L57,34.2 L56.2,37.5 L57.4,41.6 L54.6,44.8 L52.9,48.9 L50.5,46 L13.9,46.4 L13.1,39.1 L9.9,29.4 L8.2,19.6 L7,17.2 L7.8,9.9 Z" fill="none" stroke="#d43a3a" stroke-width="0.7"/>
<text x="17.0" y="43.6" font-family="'Liberation Serif', serif" font-style="italic" font-size="17.6" textLength="27.2" lengthAdjust="spacingAndGlyphs" fill="#cc1f1f">IEM</text>
<g fill="#1e1ec8" stroke="#1e1ec8">
<ellipse cx="25.8" cy="23.6" rx="2.1" ry="2.9" stroke="none"/>
<path d="M26,23.8 H49.8 M49.8,18.0 V31.6 M45.4,18.5 H54.8 M25.3,22.3 L18.4,12.0" stroke-width="1.7" fill="none"/>
<path d="M18.4,12.0 l-0.9,-2.2 M18.9,11.6 l1.4,-1.6 M17.9,12.6 l-1.2,-0.4" stroke-width="1.0" fill="none"/>
<path d="M38.6,13.9 L41.6,13.4 L47.6,18.2 L45.6,19.4 L42.6,18.8 Z" stroke="none"/>
<circle cx="20.1" cy="22.2" r="0.9" stroke="none"/><circle cx="18.9" cy="24.5" r="0.9" stroke="none"/><circle cx="21.3" cy="24.5" r="0.9" stroke="none"/>
<circle cx="46.3" cy="27.5" r="1.3" stroke="none"/><circle cx="52.3" cy="27.5" r="1.3" stroke="none"/><circle cx="51.8" cy="31.5" r="1.3" stroke="none"/>
</g></g></svg></body></html>
